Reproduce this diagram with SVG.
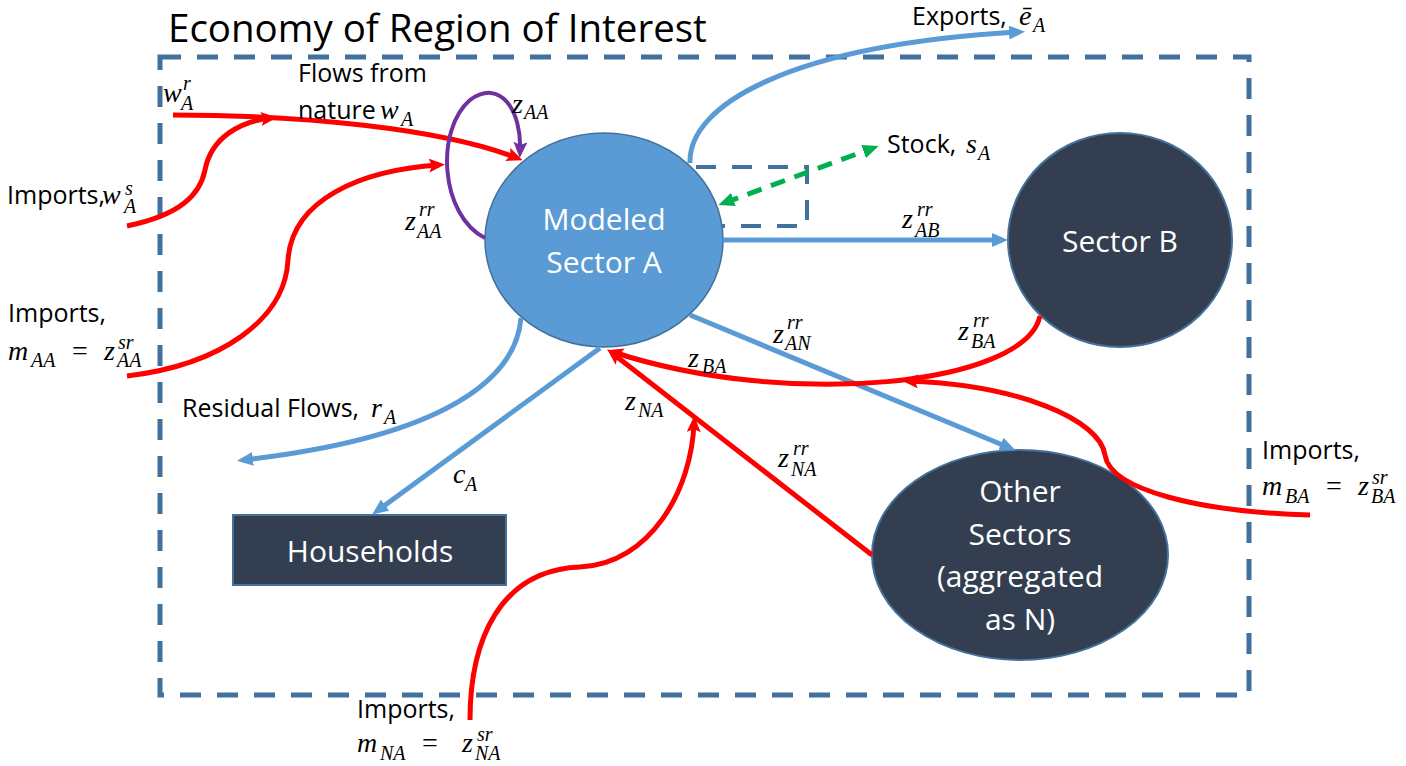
<svg xmlns="http://www.w3.org/2000/svg" width="1406" height="766" viewBox="0 0 1406 766">
<style>
.box{fill:none;stroke:#41719C;stroke-width:5;stroke-dasharray:21 16}
.sbox{fill:none;stroke:#41719C;stroke-width:4;stroke-dasharray:20 16}
.blue{fill:none;stroke:#5B9BD5;stroke-width:5}
.red{fill:none;stroke:#FF0000;stroke-width:5}
.purple{fill:none;stroke:#7030A0;stroke-width:4}
.green{fill:none;stroke:#00B050;stroke-width:5;stroke-dasharray:15 10}
.t{font-family:"Open Sans","Liberation Sans",sans-serif;font-size:25px;font-style:normal;fill:#000}
.title{font-family:"Open Sans","Liberation Sans",sans-serif;font-size:38.5px;fill:#000}
.nt{font-family:"Open Sans","Liberation Sans",sans-serif;font-size:30px;fill:#fff;text-anchor:middle}
.mi{font-family:"Liberation Serif",serif;font-style:italic;font-size:28px;fill:#000}
.ms{font-family:"Liberation Serif",serif;font-style:italic;font-size:20px}
.mo{font-family:"Liberation Serif",serif;font-style:normal;font-size:28px}
.dark{fill:#333F50;stroke:#41719C;stroke-width:2}
.light{fill:#5B9BD5;stroke:#41719C;stroke-width:1.5}
</style>
<defs>
<marker id="ab" viewBox="0 0 16 14" refX="10" refY="7" markerWidth="16" markerHeight="14" markerUnits="userSpaceOnUse" orient="auto"><path d="M0,0 L16,7 L0,14 z" fill="#5B9BD5"/></marker>
<marker id="ar" viewBox="0 0 16 14" refX="10" refY="7" markerWidth="16" markerHeight="14" markerUnits="userSpaceOnUse" orient="auto"><path d="M0,0 L16,7 L0,14 L3,7 z" fill="#FF0000"/></marker>
<marker id="ap" viewBox="0 0 16 14" refX="10" refY="7" markerWidth="16" markerHeight="14" markerUnits="userSpaceOnUse" orient="auto"><path d="M0,0 L16,7 L0,14 L3,7 z" fill="#7030A0"/></marker>
<marker id="ag" viewBox="0 0 16 14" refX="10" refY="7" markerWidth="16" markerHeight="14" markerUnits="userSpaceOnUse" orient="auto-start-reverse"><path d="M0,0 L16,7 L0,14 z" fill="#00B050"/></marker>
</defs>
<rect width="1406" height="766" fill="#fff"/>
<text class="title" x="168" y="42">Economy of Region of Interest</text>
<g id="region-boundary"><rect class="box" x="160" y="57" width="1089" height="638"/></g>
<g id="stock-box"><path class="sbox" d="M660,167 L807,167 L807,226 L700,226"/></g>
<g id="sector-a"><ellipse class="light" cx="604" cy="240" rx="119" ry="107"/><text class="nt" x="604" y="230">Modeled</text><text class="nt" x="604" y="273">Sector A</text></g>
<g id="sector-b"><ellipse class="dark" cx="1120" cy="240" rx="112" ry="107"/><text class="nt" x="1120" y="252">Sector B</text></g>
<g id="households"><rect class="dark" x="233" y="515" width="273" height="70"/><text class="nt" x="370" y="562">Households</text></g>
<g id="other-sectors"><ellipse class="dark" cx="1020" cy="555" rx="148" ry="105"/><text class="nt" x="1020" y="502">Other</text><text class="nt" x="1020" y="545">Sectors</text><text class="nt" x="1020" y="587">(aggregated</text><text class="nt" x="1020" y="630">as N)</text></g>
<g id="connectors">
<path class="blue" d="M723,240 L1002,240" marker-end="url(#ab)"/>
<path class="blue" d="M690,163 C688,105 790,45 1019,32" marker-end="url(#ab)"/>
<path class="blue" d="M521,318 C515,390 420,440 243,460" marker-end="url(#ab)"/>
<path class="blue" d="M600,348 L377,511" marker-end="url(#ab)"/>
<path class="blue" d="M690,315 L1010,448" marker-end="url(#ab)"/>
<path class="red" d="M173,115 C300,115 440,128 517,158" marker-end="url(#ar)"/>
<path class="red" d="M127,226 C180,215 200,195 205,170 C211,138 240,121 271,118" marker-end="url(#ar)"/>
<path class="red" d="M127,376 C220,365 285,320 288,260 C292,200 360,170 439,165" marker-end="url(#ar)"/>
<path class="red" d="M1040,316 C1025,385 790,410 613,352" marker-end="url(#ar)"/>
<path class="red" d="M1310,515 C1200,512 1110,490 1105,455 C1100,420 1020,385 908,381" marker-end="url(#ar)"/>
<path class="red" d="M872,555 L612,353" marker-end="url(#ar)"/>
<path class="red" d="M470,720 C470,640 500,570 580,567 C650,564 692,490 694,422" marker-end="url(#ar)"/>
<path class="purple" d="M485,238 C440,215 435,130 470,100 C500,78 522,110 520,152" marker-end="url(#ap)"/>
<path class="green" d="M724,203 L873,148" marker-start="url(#ag)" marker-end="url(#ag)"/>
</g>
<g id="labels">
<text class="t" x="7" y="204">Imports,<tspan class="mi" x="102" y="204">w</tspan><tspan class="ms" x="124" y="213">A</tspan><tspan class="ms" x="125" y="195">s</tspan></text>
<text class="mi" x="163" y="102">w<tspan class="ms" x="181" y="110">A</tspan><tspan class="ms" x="183" y="90">r</tspan></text>
<text class="t" x="298" y="82">Flows from</text>
<text class="t" x="298" y="119">nature<tspan class="mi" x="380" y="119">w</tspan><tspan class="ms" x="401" y="126">A</tspan></text>
<text class="mi" x="512" y="113">z<tspan class="ms" x="524" y="119">AA</tspan></text>
<text class="mi" x="405" y="230">z<tspan class="ms" x="417" y="238">AA</tspan><tspan class="ms" x="419" y="216">rr</tspan></text>
<text class="t" x="8" y="322">Imports,</text>
<text class="mi" x="8" y="360">m<tspan class="ms" x="31" y="367">AA</tspan><tspan class="mo" x="72" y="360">=</tspan><tspan x="104" y="360">z</tspan><tspan class="ms" x="117" y="367">AA</tspan><tspan class="ms" x="118" y="349">sr</tspan></text>
<text class="t" x="182" y="417">Residual Flows,<tspan class="mi" x="371" y="417">r</tspan><tspan class="ms" x="384" y="424">A</tspan></text>
<text class="mi" x="453" y="483">c<tspan class="ms" x="465" y="491">A</tspan></text>
<text class="mi" x="625" y="410">z<tspan class="ms" x="638" y="417">NA</tspan></text>
<text class="mi" x="688" y="367">z<tspan class="ms" x="702" y="373">BA</tspan></text>
<text class="mi" x="773" y="343">z<tspan class="ms" x="785" y="350">AN</tspan><tspan class="ms" x="787" y="329">rr</tspan></text>
<text class="mi" x="778" y="467">z<tspan class="ms" x="791" y="476">NA</tspan><tspan class="ms" x="793" y="455">rr</tspan></text>
<text class="mi" x="958" y="340">z<tspan class="ms" x="971" y="348">BA</tspan><tspan class="ms" x="973" y="327">rr</tspan></text>
<text class="mi" x="902" y="228">z<tspan class="ms" x="915" y="237">AB</tspan><tspan class="ms" x="917" y="216">rr</tspan></text>
<text class="t" x="887" y="153">Stock,<tspan class="mi" x="966" y="153">s</tspan><tspan class="ms" x="978" y="160">A</tspan></text>
<text class="t" x="912" y="25">Exports,<tspan class="mi" x="1019" y="25">ē</tspan><tspan class="ms" x="1033" y="32">A</tspan></text>
<text class="t" x="1262" y="459">Imports,</text>
<text class="mi" x="1262" y="495">m<tspan class="ms" x="1285" y="503">BA</tspan><tspan class="mo" x="1326" y="495">=</tspan><tspan x="1358" y="495">z</tspan><tspan class="ms" x="1371" y="503">BA</tspan><tspan class="ms" x="1372" y="484">sr</tspan></text>
<text class="t" x="357" y="718">Imports,</text>
<text class="mi" x="357" y="752">m<tspan class="ms" x="380" y="760">NA</tspan><tspan class="mo" x="422" y="752">=</tspan><tspan x="462" y="752">z</tspan><tspan class="ms" x="475" y="760">NA</tspan><tspan class="ms" x="477" y="741">sr</tspan></text>
</g>
</svg>
